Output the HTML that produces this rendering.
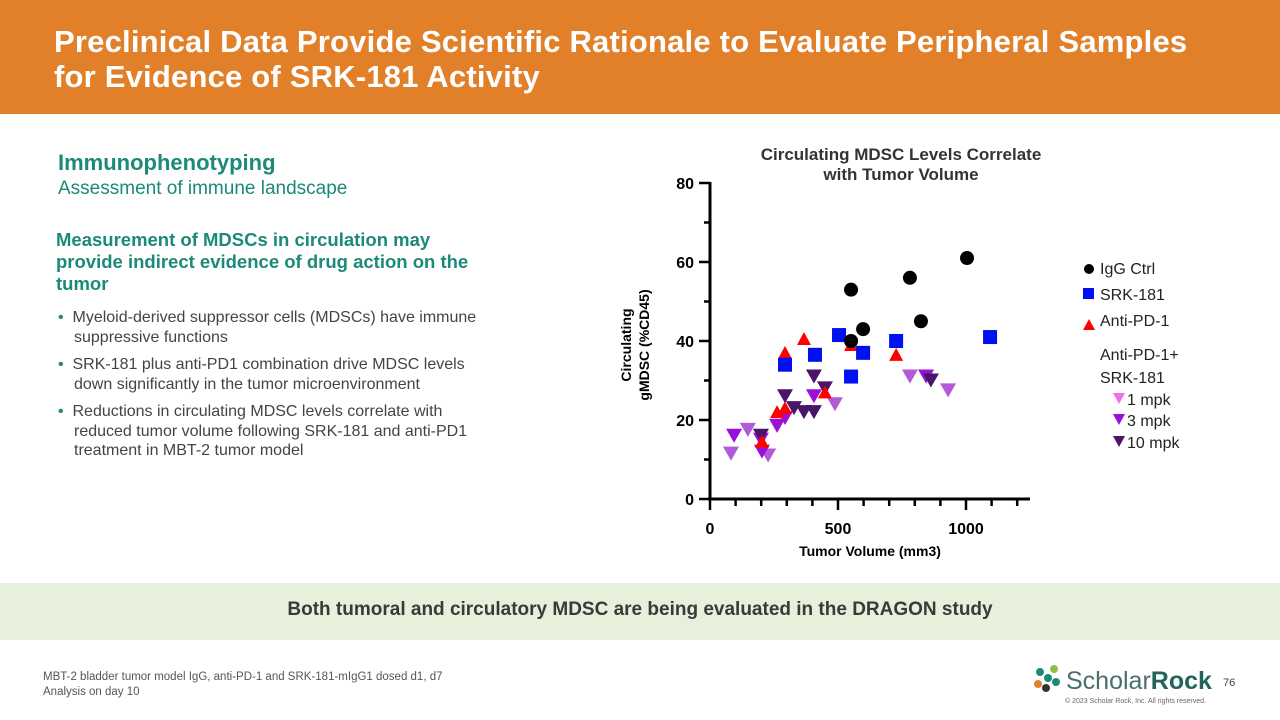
<!DOCTYPE html>
<html><head><meta charset="utf-8"><style>
body{margin:0;width:1280px;height:720px;position:relative;background:#fff;font-family:"Liberation Sans",sans-serif;overflow:hidden}
.abs{position:absolute}
#hdr{left:0;top:0;width:1280px;height:114px;background:#E2802A}
#hdr h1{margin:0;position:absolute;left:54px;top:24px;color:#fff;font-size:31px;line-height:35px;font-weight:bold;letter-spacing:0.2px}
.teal{color:#1B8A78}
ul{margin:0;padding-left:16px}
li{margin-bottom:8px}
</style></head><body>
<div id="hdr" class="abs"><h1>Preclinical Data Provide Scientific Rationale to Evaluate Peripheral Samples<br>for Evidence of SRK-181 Activity</h1></div>
<div class="abs teal" style="left:58px;top:150px;font-size:22px;font-weight:bold">Immunophenotyping</div>
<div class="abs teal" style="left:58px;top:178px;font-size:19px">Assessment of immune landscape</div>
<div class="abs teal" style="left:56px;top:229px;font-size:18.5px;font-weight:bold;line-height:22px;width:430px">Measurement of MDSCs in circulation may provide indirect evidence of drug action on the tumor</div>
<div class="abs" style="left:58px;top:308px;font-size:16px;line-height:19.5px;color:#444;width:420px">
<ul style="list-style:none;padding:0">
<li style="padding-left:16px;text-indent:-16px"><span style="color:#1B8A78">•&nbsp;&nbsp;</span>Myeloid-derived suppressor cells (MDSCs) have immune suppressive functions</li>
<li style="padding-left:16px;text-indent:-16px"><span style="color:#1B8A78">•&nbsp;&nbsp;</span>SRK-181 plus anti-PD1 combination drive MDSC levels down significantly in the tumor microenvironment</li>
<li style="padding-left:16px;text-indent:-16px"><span style="color:#1B8A78">•&nbsp;&nbsp;</span>Reductions in circulating MDSC levels correlate with reduced tumor volume following SRK-181 and anti-PD1 treatment in MBT-2 tumor model</li>
</ul></div>
<div class="abs" style="left:0;top:583px;width:1280px;height:57px;background:#E7F0DA"></div>
<div class="abs" style="left:0;top:599px;width:1280px;text-align:center;font-size:19px;font-weight:bold;color:#3a3a3a">Both tumoral and circulatory MDSC are being evaluated in the DRAGON study</div>
<div class="abs" style="left:43px;top:670px;font-size:11.5px;line-height:15px;color:#555">MBT-2 bladder tumor model IgG, anti-PD-1 and SRK-181-mIgG1 dosed d1, d7<br>Analysis on day 10</div>
<div class="abs" style="left:1066px;top:667px;font-size:25px;color:#4a6e6a">Scholar<b style="color:#24645e">Rock</b></div>
<svg class="abs" style="left:1032px;top:664px" width="30" height="32"><circle cx="22" cy="5" r="4" fill="#8BC34A"/><circle cx="8" cy="8" r="4" fill="#1B8A78"/><circle cx="16" cy="14" r="4" fill="#1B8A78"/><circle cx="6" cy="20" r="4" fill="#E2802A"/><circle cx="14" cy="24" r="4" fill="#333"/><circle cx="24" cy="18" r="4" fill="#1B8A78"/></svg>
<div class="abs" style="left:1065px;top:698px;font-size:7px;color:#666">© 2023 Scholar Rock, Inc. All rights reserved.</div>
<div class="abs" style="left:1223px;top:677px;font-size:11px;color:#444">76</div>

<svg id="chart" class="abs" style="left:0;top:0" width="1280" height="720"></svg>
<script>
const xTicks=[0,500,1000];
const yTicks=[0,20,40,60,80];
const iggX=[551,781,1004,824,598,551];
const iggY=[53,56,61,45,43,40];
const srkX=[293,410,504,551,598,727,1094];
const srkY=[34,36.5,41.5,31,37,40,41];
const pdX=[293,367,449,727,203,262,293,551];
const pdY=[37,40.5,27,36.5,14.5,22,23,39];
const m1X=[82,148,227,488,781,930];
const m1Y=[11.5,17.5,11,24,31,27.5];
const m3X=[94,199,262,293,406,844,203];
const m3Y=[16,15,18.5,20.5,26,31,12];
const m10X=[199,293,328,367,406,449,406,863];
const m10Y=[16,26,23,22,31,28,22,30];
const NS='http://www.w3.org/2000/svg';
const svg=document.getElementById('chart');
const X=v=>710+v*0.256, Y=v=>499-v*3.95;
function mk(t,a,p){const e=document.createElementNS(NS,t);for(const k in a)e.setAttribute(k,a[k]);(p||svg).appendChild(e);return e;}
let ax=mk('line',{x1:710,y1:182,x2:710,y2:499,stroke:'#000','stroke-width':3});


let axx=mk('line',{x1:708,y1:499,x2:1030,y2:499,stroke:'#000','stroke-width':3});


for(let v=0;v<=1250;v+=100){mk('line',{x1:X(v),y1:499,x2:X(v),y2:v%500==0?510:506,stroke:'#000','stroke-width':2.5});}
xTicks.forEach(v=>{let t=mk('text',{x:X(v),y:534,'text-anchor':'middle','font-size':16,'font-weight':'bold'});t.textContent=v;

});
for(let v=0;v<=80;v+=10){mk('line',{x1:v%20==0?699:704,y1:Y(v),x2:710,y2:Y(v),stroke:'#000','stroke-width':2.5});}
yTicks.forEach(v=>{let t=mk('text',{x:694,y:Y(v)+6,'text-anchor':'end','font-size':16,'font-weight':'bold'});t.textContent=v;

});
let xt=mk('text',{x:870,y:556,'text-anchor':'middle','font-size':14,'font-weight':'bold'});xt.textContent='Tumor Volume (mm3)';


let yt=mk('text',{transform:'translate(631,345) rotate(-90)','text-anchor':'middle','font-size':14,'font-weight':'bold'});


mk('tspan',{x:0,dy:0},yt).textContent='Circulating';mk('tspan',{x:0,dy:18},yt).textContent='gMDSC (%CD45)';
let ct=mk('text',{x:901,y:160,'text-anchor':'middle','font-size':17,'font-weight':'bold',fill:'#333'});


mk('tspan',{x:901,dy:0},ct).textContent='Circulating MDSC Levels Correlate';mk('tspan',{x:901,dy:20},ct).textContent='with Tumor Volume';
function down(x,y,c,n){let p=mk('polygon',{points:`${x-8},${y-7} ${x+8},${y-7} ${x},${y+7}`,fill:c});
}
m1X.forEach((v,i)=>down(X(v),Y(m1Y[i]),'#B25AD8','point-1mpk'));
m3X.forEach((v,i)=>down(X(v),Y(m3Y[i]),'#9A10D8','point-3mpk'));
m10X.forEach((v,i)=>down(X(v),Y(m10Y[i]),'#4A1468','point-10mpk'));
pdX.forEach((v,i)=>{let p=mk('polygon',{points:`${X(v)-7},${Y(pdY[i])+6} ${X(v)+7},${Y(pdY[i])+6} ${X(v)},${Y(pdY[i])-7}`,fill:'#F00'});

});
srkX.forEach((v,i)=>{let p=mk('rect',{x:X(v)-7,y:Y(srkY[i])-7,width:14,height:14,fill:'#0010F0'});

});
iggX.forEach((v,i)=>{let p=mk('circle',{cx:X(v),cy:Y(iggY[i]),r:7,fill:'#000'});

});
function lt(x,y,s){let t=mk('text',{x:x,y:y,'font-size':16,fill:'#222'});t.textContent=s;

}
mk('circle',{cx:1089,cy:269,r:5,fill:'#000'});lt(1100,274,'IgG Ctrl');
mk('rect',{x:1083,y:288,width:11,height:11,fill:'#0010F0'});lt(1100,300,'SRK-181');
mk('polygon',{points:'1083,330 1095,330 1089,319',fill:'#F00'});lt(1100,326,'Anti-PD-1');
lt(1100,360,'Anti-PD-1+');lt(1100,383,'SRK-181');
mk('polygon',{points:'1113,393 1125,393 1119,404',fill:'#F070F0'});lt(1127,405,'1 mpk');
mk('polygon',{points:'1113,414 1125,414 1119,425',fill:'#9A10D8'});lt(1127,426,'3 mpk');
mk('polygon',{points:'1113,436 1125,436 1119,447',fill:'#4A1468'});lt(1127,448,'10 mpk');
</script>
</body></html>
